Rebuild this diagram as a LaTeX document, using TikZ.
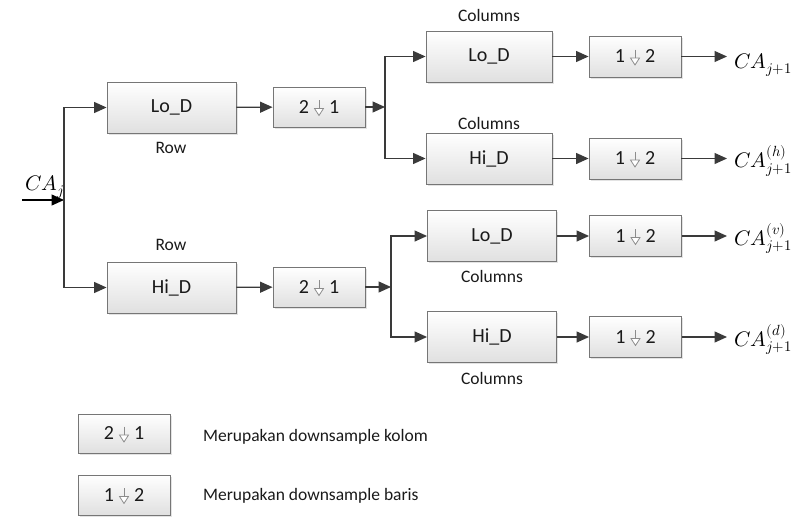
\documentclass[tikz,border=0pt]{standalone}
\usepackage{fontspec}
\usepackage{unicode-math}
\setmainfont{Carlito}
\setmathfont{Latin Modern Math}
\usetikzlibrary{arrows.meta,shadows}

\definecolor{lin}{HTML}{3A3A3A}
\definecolor{boxline}{HTML}{767676}
\definecolor{boxbot}{HTML}{E0E0E0}
\definecolor{txt}{HTML}{1A1A1A}
\definecolor{markc}{HTML}{8C8C8C}

\tikzset{
  blk/.style={draw=boxline, line width=0.9pt, top color=white, bottom color=boxbot,
    drop shadow={opacity=0.22, shadow xshift=1.5pt, shadow yshift=-1.5pt},
    minimum width=129pt, minimum height=51pt, inner sep=0pt,
    font=\fontsize{20}{24}\selectfont, text=txt},
  dsbox/.style={blk, minimum width=92pt, minimum height=40pt},
  lbl/.style={font=\fontsize{17.5}{20}\selectfont, text=txt, inner sep=0pt},
  outlbl/.style={font=\fontsize{21}{24}\selectfont, anchor=base west, inner sep=0pt},
  conn/.style={draw=lin, line width=1.3pt, -{Triangle[length=12.5pt,width=11pt]}},
  dsmark/.pic={
    \draw[markc, line width=1pt] (0,-7) -- (0,1.5);
    \draw[markc, line width=0.8pt, fill=white, line join=miter] (-4.5,1.5) -- (4.5,1.5) -- (0,8.5) -- cycle;
  }
}

\begin{document}
\begin{tikzpicture}[x=1pt, y=-1pt]
\useasboundingbox (0,0) rectangle (795,517);

% first stage: row filters
\node[blk] (loR) at (171.5,107.5) {Lo\_D};
\node[blk] (hiR) at (171.5,287.5) {Hi\_D};
\node[lbl] (rowA) at (171,148) {Row};
\node[lbl] (rowB) at (171,245) {Row};

% row downsampling
\node[dsbox] (ds1) at (319,107) {2\hspace{20pt}1};
\node[dsbox] (ds2) at (319,287) {2\hspace{20pt}1};
\pic at (ds1.center) {dsmark};
\pic at (ds2.center) {dsmark};

% second stage: column filters
\node[blk, minimum width=126pt] (cLo1) at (489,56.5) {Lo\_D};
\node[blk, minimum width=126pt] (cHi1) at (489,158.5) {Hi\_D};
\node[blk] (cLo2) at (492,236) {Lo\_D};
\node[blk] (cHi2) at (492,337) {Hi\_D};
\node[lbl] (colA) at (489,15) {Columns};
\node[lbl] (colB) at (489,123) {Columns};
\node[lbl] (colC) at (492,276) {Columns};
\node[lbl] (colD) at (492,378) {Columns};

% column downsampling
\node[dsbox, minimum height=41pt] (d11) at (635,56.5) {1\hspace{20pt}2};
\node[dsbox, minimum height=41pt] (d12) at (635,158.5) {1\hspace{20pt}2};
\node[dsbox, minimum height=41pt] (d21) at (635.5,236) {1\hspace{20pt}2};
\node[dsbox, minimum height=41pt] (d22) at (635.5,337) {1\hspace{20pt}2};
\foreach \n in {d11,d12,d21,d22} \pic at (\n.center) {dsmark};

% input
\node[outlbl] (inlbl) at (25,190) {$CA_j$};
\coordinate (in) at (22,200);
\coordinate (j0) at (64,200);
\coordinate (ja) at (385,107);
\coordinate (jb) at (391,287);

% outputs
\coordinate (o1) at (727,56.5);
\coordinate (o2) at (727,158.5);
\coordinate (o3) at (727,236);
\coordinate (o4) at (727,337);
\node[outlbl] (out1) at (734,68) {$CA_{j+1}$};
\node[outlbl] (out2) at (734,167.5) {$CA_{j+1}^{(h)}$};
\node[outlbl] (out3) at (734,245) {$CA_{j+1}^{(v)}$};
\node[outlbl] (out4) at (734,346) {$CA_{j+1}^{(d)}$};

% connectors
\draw[conn, draw=black] (in) -- (j0);
\draw[conn] (j0) |- (loR.west);
\draw[conn] (j0) |- (hiR.west);
\draw[conn] (loR) -- (ds1);
\draw[conn] (hiR) -- (ds2);
\draw[conn] (ds1.east) -- (ja);
\draw[conn] (ds2.east) -- (jb);
\draw[conn] (ja) |- (cLo1.west);
\draw[conn] (ja) |- (cHi1.west);
\draw[conn] (jb) |- (cLo2.west);
\draw[conn] (jb) |- (cHi2.west);
\draw[conn] (cLo1) -- (d11);
\draw[conn] (cHi1) -- (d12);
\draw[conn] (cLo2) -- (d21);
\draw[conn] (cHi2) -- (d22);
\draw[conn] (d11.east) -- (o1);
\draw[conn] (d12.east) -- (o2);
\draw[conn] (d21.east) -- (o3);
\draw[conn] (d22.east) -- (o4);

% legend
\node[dsbox, minimum height=39pt] (lg1) at (124,433.5) {2\hspace{20pt}1};
\node[dsbox] (lg2) at (124,495) {1\hspace{20pt}2};
\pic at (lg1.center) {dsmark};
\pic at (lg2.center) {dsmark};
\node[lbl, anchor=west] (lt1) at (203,437) {Merupakan downsample kolom};
\node[lbl, anchor=west] (lt2) at (203,496) {Merupakan downsample baris};
\end{tikzpicture}
\end{document}
